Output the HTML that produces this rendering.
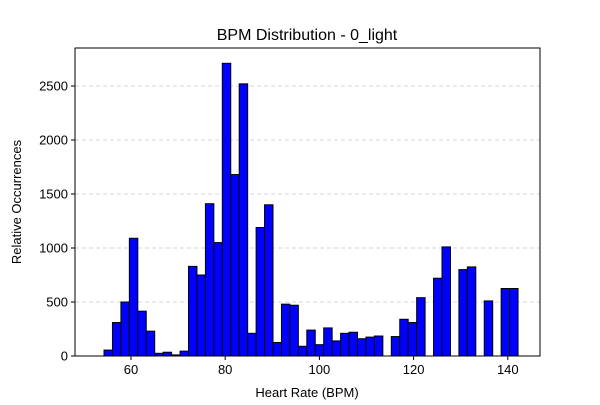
<!DOCTYPE html>
<html><head><meta charset="utf-8"><style>
body{margin:0;background:#fff;}
svg text{font-family:"Liberation Sans",sans-serif;fill:#000;}
</style></head><body>
<svg id="chart" width="600" height="400">
<text x="307" y="40" font-size="16" text-anchor="middle">BPM Distribution - 0_light</text>
<text x="307" y="397" font-size="13" text-anchor="middle">Heart Rate (BPM)</text>
<text transform="translate(21,202) rotate(-90)" font-size="13" text-anchor="middle">Relative Occurrences</text>
<g id="grid"></g><g id="bars"></g><g id="axes"></g>
</svg>
<script>
const counts=[55,310,500,1090,415,230,25,35,10,45,830,750,1410,1050,2710,1680,2520,210,1190,1400,125,480,470,90,240,105,260,140,210,220,160,175,185,0,180,340,310,540,0,720,1010,0,800,825,0,510,0,625,625];
const binStart=54.27, binWidth=1.794;
const xTicks=[60,80,100,120,140];
const yTicks=[0,500,1000,1500,2000,2500];
const L=75,R=540,T=48,B=356;
const xs=v=>131+(v-60)*4.71;
const ys=v=>B-v*0.108;
const NS="http://www.w3.org/2000/svg";
function mk(t,a,p){const e=document.createElementNS(NS,t);for(const k in a)e.setAttribute(k,a[k]);p.appendChild(e);return e;}
const grid=document.getElementById('grid'),bars=document.getElementById('bars'),axes=document.getElementById('axes');
yTicks.forEach(v=>{if(v>0){const g=mk('line',{x1:L,x2:R,y1:ys(v),y2:ys(v),stroke:'#c8c8c8','stroke-dasharray':'4,3','stroke-width':0.8},grid);

}});
counts.forEach((c,i)=>{if(c<=0)return;const x0=xs(binStart+i*binWidth),x1=xs(binStart+(i+1)*binWidth);
const r=mk('rect',{x:x0,y:ys(c),width:x1-x0,height:B-ys(c),fill:'#0000ff',stroke:'#000','stroke-width':1},bars);

});
const fr=mk('rect',{x:L,y:T,width:R-L,height:B-T,fill:'none',stroke:'#000','stroke-width':1},axes);


xTicks.forEach(v=>{mk('line',{x1:xs(v),x2:xs(v),y1:B,y2:B+4,stroke:'#000'},axes);
const t=mk('text',{x:xs(v),y:B+18,'font-size':13,'text-anchor':'middle'},axes);t.textContent=v;

});
yTicks.forEach(v=>{mk('line',{x1:L-4,x2:L,y1:ys(v),y2:ys(v),stroke:'#000'},axes);
const t=mk('text',{x:L-7,y:ys(v)+4.5,'font-size':13,'text-anchor':'end'},axes);t.textContent=v;

});
</script>
</body></html>
